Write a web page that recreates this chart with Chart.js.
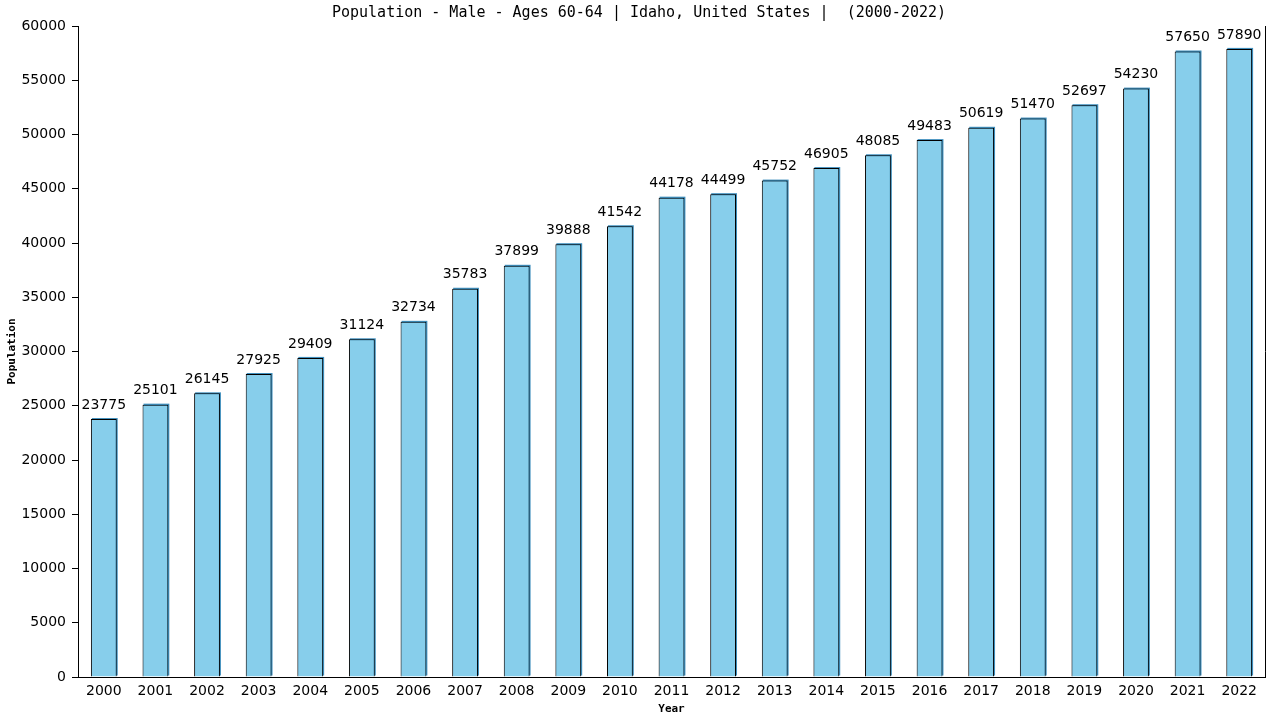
<!DOCTYPE html>
<html>
<head>
<meta charset="utf-8">
<script src="https://cdn.jsdelivr.net/npm/chart.js@4/dist/chart.umd.min.js"></script>
<style>
  html, body { margin: 0; padding: 0; background: #fff; }
  #wrap { width: 1280px; height: 720px; position: relative; }
</style>
</head>
<body>
<div id="wrap"><canvas id="chart" width="1280" height="720"></canvas></div>
<script>
// Chart data
const years = ['2000', '2001', '2002', '2003', '2004', '2005', '2006', '2007', '2008', '2009', '2010', '2011',
  '2012', '2013', '2014', '2015', '2016', '2017', '2018', '2019', '2020', '2021', '2022'];
const population = [23775, 25101, 26145, 27925, 29409, 31124, 32734, 35783, 37899, 39888, 41542, 44178,
  44499, 45752, 46905, 48085, 49483, 50619, 51470, 52697, 54230, 57650, 57890];
const yTicks = [0, 5000, 10000, 15000, 20000, 25000, 30000, 35000, 40000, 45000, 50000, 55000, 60000];

const titleText = 'Population - Male - Ages 60-64 | Idaho, United States |  (2000-2022)';
const monoFont = "'DejaVu Sans Mono', monospace";
const sansFont = "'DejaVu Sans', sans-serif";

// Title, shadow behind bars, right border and value labels
const extras = {
  id: 'extras',
  beforeDatasetsDraw(chart) {
    const ctx = chart.ctx;
    ctx.save();
    ctx.fillStyle = '#3f8fbd';
    chart.getDatasetMeta(0).data.forEach((bar) => {
      const w = bar.width;
      ctx.fillRect(bar.x - w / 2 + 1, bar.y - 1, w, bar.base - bar.y);
    });
    ctx.restore();
  },
  afterDatasetsDraw(chart) {
    const ctx = chart.ctx;
    const area = chart.chartArea;
    ctx.save();
    // right border
    ctx.strokeStyle = '#000';
    ctx.lineWidth = 1;
    ctx.beginPath();
    ctx.moveTo(Math.round(area.right) + 0.5, area.top);
    ctx.lineTo(Math.round(area.right) + 0.5, area.bottom);
    ctx.stroke();

    // value labels
    ctx.fillStyle = '#000';
    ctx.font = '14px ' + sansFont;
    ctx.textAlign = 'center';
    ctx.textBaseline = 'bottom';
    chart.getDatasetMeta(0).data.forEach((bar, i) => {
      ctx.fillText(String(population[i]), bar.x, bar.y - 7);
    });

    // title
    ctx.font = '15px ' + monoFont;
    ctx.textBaseline = 'middle';
    ctx.fillText(titleText, 639, 13);
    ctx.restore();
  },
};

const chart = new Chart(document.getElementById('chart'), {
  type: 'bar',
  data: {
    labels: years,
    datasets: [
      {
        data: population,
        backgroundColor: '#87ceeb',
        borderColor: '#000',
        borderWidth: { top: 1, left: 1, right: 1, bottom: 0 },
        categoryPercentage: 1,
        barPercentage: 0.5,
      },
    ],
  },
  options: {
    responsive: false,
    animation: false,
    devicePixelRatio: 1,
    layout: {
      padding: { top: 26, right: 15, left: 0, bottom: 0 },
    },
    plugins: {
      legend: { display: false },
      tooltip: { enabled: false },
      title: { display: false },
    },
    scales: {
      x: {
        offset: true,
        grid: { display: true, drawOnChartArea: false, drawTicks: false },
        border: { display: true, color: '#000', width: 1 },
        ticks: {
          color: '#000',
          font: { family: sansFont, size: 14 },
          padding: 6,
          maxRotation: 0,
          autoSkip: false,
        },
        title: {
          display: true,
          text: 'Year',
          color: '#000',
          font: { family: monoFont, size: 11, weight: 'bold' },
          padding: { top: 0, bottom: 4 },
        },
        afterFit(scale) {
          scale.height = 43;
        },
      },
      y: {
        min: 0,
        max: 60000,
        grid: {
          display: true,
          drawOnChartArea: false,
          drawTicks: true,
          tickLength: 6,
          color: '#000',
        },
        border: { display: true, color: '#000', width: 1 },
        afterBuildTicks(scale) {
          scale.ticks = yTicks.map((v) => ({ value: v }));
        },
        ticks: {
          color: '#000',
          font: { family: sansFont, size: 14 },
          padding: 6,
          callback: (value) => String(value),
        },
        title: {
          display: true,
          text: 'Population',
          color: '#000',
          font: { family: monoFont, size: 11, weight: 'bold' },
          padding: { top: 6, bottom: 0 },
        },
        afterFit(scale) {
          scale.width = 78;
        },
      },
    },
  },
  plugins: [extras],
});
</script>
</body>
</html>
